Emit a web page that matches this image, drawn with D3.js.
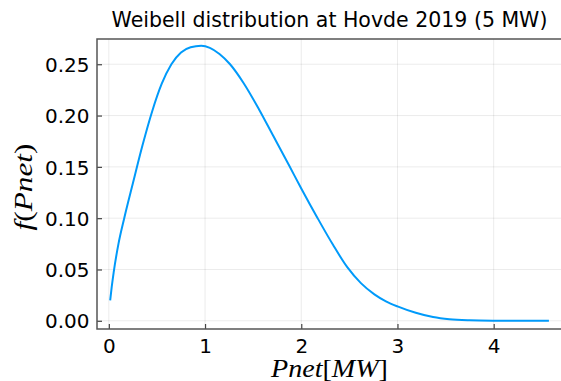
<!doctype html>
<html lang="en-US">
<head>
  <meta charset="utf-8">
  <title>Weibell distribution at Hovde 2019</title>
  <script src="https://cdnjs.cloudflare.com/ajax/libs/d3/7.8.5/d3.min.js"></script>
  <style>
    html, body {
      margin: 0px;
      padding: 0px;
      background: #fff;
    }
    svg {
      display: block;
    }
    .tick text {
      font-family: "DejaVu Sans", sans-serif;
      font-size: 20px;
      fill: #000;
    }
    .mathlabel {
      font-family: "Liberation Serif", "DejaVu Serif", serif;
      font-style: italic;
      font-size: 26px;
      fill: #000;
    }
  </style>
</head>
<body>
<div id="chart"></div>
<script>
// values
var pnet = [0.014, 0.03, 0.05, 0.10, 0.16, 0.25, 0.35, 0.45, 0.55, 0.65, 0.75, 0.85, 0.96,
            1.05, 1.15, 1.26, 1.40, 1.56, 1.71, 1.87, 2.0, 2.17, 2.33, 2.48, 2.62,
            2.76, 2.88, 3.0, 3.19, 3.37, 3.54, 3.75, 4.0, 4.3, 4.574];
var density = [0.020, 0.033, 0.047, 0.075, 0.100, 0.134, 0.171, 0.204, 0.231, 0.250, 0.2615, 0.2665, 0.268,
               0.266, 0.260, 0.250, 0.2318, 0.2062, 0.180, 0.152, 0.129, 0.100, 0.074, 0.052, 0.0367,
               0.0258, 0.019, 0.014, 0.0078, 0.0036, 0.0015, 0.0005, 0.00012, 0.0, 0.0];
var xTicks = [0, 1, 2, 3, 4];
var yTicks = [0, 0.05, 0.10, 0.15, 0.20, 0.25];

var width = 561, height = 381;
// plot box (note: "top" is taken by window.top, so use other names)
var pLeft = 97, pRight = 562, pTop = 39, pBottom = 329;

var svg = d3.select("#chart").append("svg")
  .attr("width", width)
  .attr("height", height);

var x = d3.scaleLinear().domain([-0.123, 4.71]).range([pLeft, pRight]);
var y = d3.scaleLinear().domain([-0.008, 0.2746]).range([pBottom, pTop]);

// grid
svg.append("g").selectAll("line").data(xTicks).enter().append("line")
  .attr("x1", function(d) { return x(d); })
  .attr("x2", function(d) { return x(d); })
  .attr("y1", pTop).attr("y2", pBottom)
  .attr("stroke", "#000").attr("stroke-opacity", 0.08).attr("stroke-width", 1);
svg.append("g").selectAll("line").data(yTicks).enter().append("line")
  .attr("y1", function(d) { return y(d); })
  .attr("y2", function(d) { return y(d); })
  .attr("x1", pLeft).attr("x2", pRight)
  .attr("stroke", "#000").attr("stroke-opacity", 0.08).attr("stroke-width", 1);

// axes (ticks point inward)
var xAxis = d3.axisBottom(x).tickValues(xTicks).tickSize(-5).tickPadding(9.5)
  .tickFormat(d3.format("d"));
var yAxis = d3.axisLeft(y).tickValues(yTicks).tickSize(-5).tickPadding(7.5)
  .tickFormat(d3.format(".2f"));

var gx = svg.append("g").attr("transform", "translate(0," + pBottom + ")").call(xAxis);
var gy = svg.append("g").attr("transform", "translate(" + pLeft + ",0)").call(yAxis);
gx.select(".domain").remove();
gy.select(".domain").remove();
gx.selectAll(".tick line").attr("stroke", "#444").attr("stroke-width", 1.2);
gy.selectAll(".tick line").attr("stroke", "#444").attr("stroke-width", 1.2);
gy.selectAll(".tick text").attr("dy", "0.36em");

// frame
svg.append("rect")
  .attr("x", pLeft).attr("y", pTop)
  .attr("width", pRight - pLeft).attr("height", pBottom - pTop)
  .attr("fill", "none").attr("stroke", "#555").attr("stroke-width", 1.5);

// curve
var line = d3.line()
  .x(function(d, i) { return x(pnet[i]); })
  .y(function(d) { return y(d); })
  .curve(d3.curveMonotoneX);

svg.append("path")
  .datum(density)
  .attr("d", line)
  .attr("fill", "none")
  .attr("stroke", "#009afa")
  .attr("stroke-width", 2);

// title
svg.append("text")
  .attr("x", (pLeft + pRight) / 2)
  .attr("y", 26.7)
  .attr("text-anchor", "middle")
  .style("font-family", "'DejaVu Sans', sans-serif")
  .style("font-size", "20.5px")
  .text("Weibell distribution at Hovde 2019 (5 MW)");

// axis labels (latex style)
var xl = svg.append("text")
  .attr("class", "mathlabel")
  .attr("x", (pLeft + pRight) / 2)
  .attr("y", 376.5)
  .attr("text-anchor", "middle")
  .attr("textLength", 117)
  .attr("lengthAdjust", "spacingAndGlyphs");
xl.append("tspan").text("Pnet");
xl.append("tspan").style("font-style", "normal").text("[");
xl.append("tspan").text("MW");
xl.append("tspan").style("font-style", "normal").text("]");

var yl = svg.append("text")
  .attr("class", "mathlabel")
  .attr("transform", "translate(31.5," + ((pTop + pBottom) / 2 + 3) + ") rotate(-90)")
  .attr("text-anchor", "middle")
  .attr("textLength", 87)
  .attr("lengthAdjust", "spacingAndGlyphs");
yl.append("tspan").text("f");
yl.append("tspan").style("font-style", "normal").text("(");
yl.append("tspan").text("Pnet");
yl.append("tspan").style("font-style", "normal").text(")");
</script>
</body>
</html>
